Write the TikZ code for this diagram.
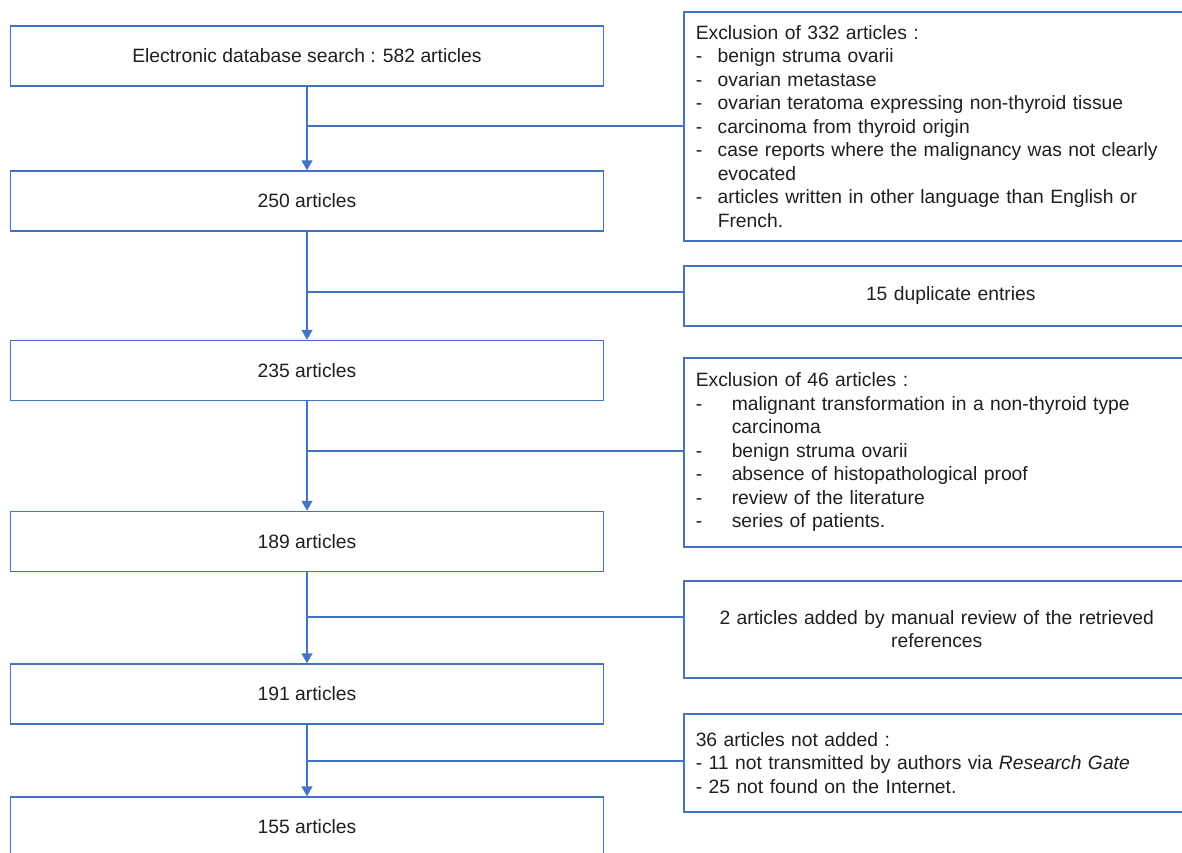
\documentclass[tikz,border=0pt]{standalone}
\usepackage{fontspec}
\setmainfont{Liberation Sans}
\usepackage{xcolor}
\definecolor{colorLine}{HTML}{4472C4}
\colorlet{colorText}{black!88}
\usetikzlibrary{arrows.meta, positioning}
\tikzset{box/.style={draw=colorLine, fill=white, minimum width=593pt, minimum height=60pt, text=colorText, font=\fontsize{19.3}{23.5}\selectfont}}
\tikzset{note/.style={box, anchor=north west, minimum width=0pt, align=left, text width=500pt, inner xsep=12pt}}
\newcommand{\dashitem}[2][22pt]{\makebox[#1][l]{-}#2}

\begin{document}
\begin{tikzpicture}[x=1pt, y=-1pt, line width=1.5pt, colorLine, >={Triangle[width=11pt, length=10pt]}]
\useasboundingbox (0,0) rectangle (1182,852);
\node[box] (s0) at (307,56) {Electronic database search : 582 articles};
\node[box] (s1) at (307,201) {250 articles};
\node[box] (s2) at (307,370.5) {235 articles};
\node[box] (s3) at (307,541.5) {189 articles};
\node[box] (s4) at (307,694) {191 articles};
\node[box] (s5) at (307,827) {155 articles};
\node[note, minimum height=229pt] (e1) at (683,11) {Exclusion of 332 articles :\\\dashitem{benign struma ovarii}\\\dashitem{ovarian metastase}\\\dashitem{ovarian teratoma expressing non-thyroid tissue}\\\dashitem{carcinoma from thyroid origin}\\\dashitem{case reports where the malignancy was not clearly}\\\hspace*{22pt}evocated\\\dashitem{articles written in other language than English or}\\\hspace*{22pt}French.};
\node[note, align=center, text width=510pt, minimum height=60pt] (e2) at (683,265) {15 duplicate entries};
\node[note, minimum height=189pt] (e3) at (683,357) {Exclusion of 46 articles :\\\dashitem[36pt]{malignant transformation in a non-thyroid type}\\\hspace*{36pt}carcinoma\\\dashitem[36pt]{benign struma ovarii}\\\dashitem[36pt]{absence of histopathological proof}\\\dashitem[36pt]{review of the literature}\\\dashitem[36pt]{series of patients.}};
\node[note, align=center, text width=482pt, minimum height=97pt] (e4) at (683,580) {2 articles added by manual review of the retrieved\\references};
\node[note, minimum height=98pt] (e5) at (683,713) {36 articles not added :\\- 11 not transmitted by authors via \textit{Research Gate}\\- 25 not found on the Internet.};
\coordinate (j1) at (307,126);
\coordinate (j2) at (307,292);
\coordinate (j3) at (307,451);
\coordinate (j4) at (307,617);
\coordinate (j5) at (307,761);
\foreach \a/\b in {s0/s1, s1/s2, s2/s3, s3/s4, s4/s5}
  \draw[->] (\a) -- (\b);
\foreach \j/\e in {j1/e1, j2/e2, j3/e3, j4/e4, j5/e5}
  \draw (\j) -- (\j -| \e.west);
\end{tikzpicture}
\end{document}
